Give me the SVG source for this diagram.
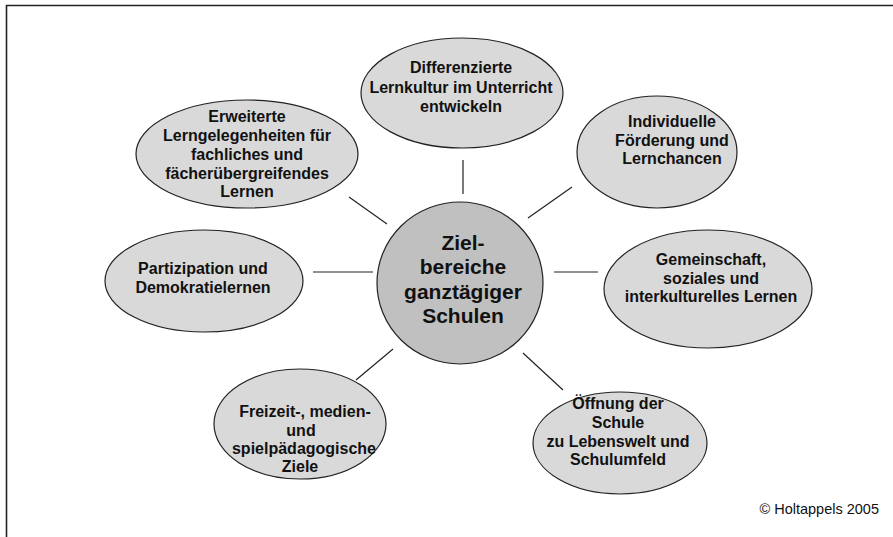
<svg xmlns="http://www.w3.org/2000/svg" width="893" height="537" viewBox="0 0 893 537">
<style>
.el{fill:#d9d9d9;stroke:#222;stroke-width:1.2}
.ctr{fill:#c0c0c0;stroke:#222;stroke-width:1.2}
.t{font-family:"Liberation Sans",Arial,sans-serif;font-weight:bold;font-size:16px;fill:#111;text-anchor:middle}
.tc{font-family:"Liberation Sans",Arial,sans-serif;font-weight:bold;font-size:21px;fill:#111;text-anchor:middle}
.cn line{stroke:#222;stroke-width:1.2}
</style>
<rect x="0" y="0" width="893" height="537" fill="#fff"/>
<path d="M6.5 537 V5.5 H893" fill="none" stroke="#222" stroke-width="1.6"/>
<g class="cn" id="connectors">
<line x1="463" y1="160" x2="463" y2="194"/>
<line x1="349" y1="197" x2="387" y2="224"/>
<line x1="528" y1="218" x2="572" y2="187"/>
<line x1="313" y1="272" x2="373" y2="272"/>
<line x1="554" y1="272" x2="598" y2="272"/>
<line x1="356" y1="380" x2="393" y2="349"/>
<line x1="523" y1="353" x2="563" y2="390"/>
</g>
<g id="center">
<ellipse class="ctr" cx="460" cy="283" rx="83" ry="81"/>
<text class="tc" x="463" y="250">Ziel-</text>
<text class="tc" x="463" y="274">bereiche</text>
<text class="tc" x="463" y="299">ganztägiger</text>
<text class="tc" x="463" y="323">Schulen</text>
</g>
<g id="n-lernkultur">
<ellipse class="el" cx="462" cy="93" rx="101" ry="55"/>
<text class="t" x="461" y="73">Differenzierte</text>
<text class="t" x="461" y="92.5">Lernkultur im Unterricht</text>
<text class="t" x="461" y="111.5">entwickeln</text>
</g>
<g id="n-lerngelegenheiten">
<ellipse class="el" cx="247" cy="154" rx="111" ry="54"/>
<text class="t" x="247" y="122">Erweiterte</text>
<text class="t" x="247" y="141">Lerngelegenheiten für</text>
<text class="t" x="247" y="160">fachliches und</text>
<text class="t" x="247" y="178.5">fächerübergreifendes</text>
<text class="t" x="247" y="197">Lernen</text>
</g>
<g id="n-foerderung">
<ellipse class="el" cx="657" cy="152" rx="80" ry="56"/>
<text class="t" x="672" y="127">Individuelle</text>
<text class="t" x="672" y="145.5">Förderung und</text>
<text class="t" x="672" y="164">Lernchancen</text>
</g>
<g id="n-gemeinschaft">
<ellipse class="el" cx="708" cy="289" rx="104" ry="59"/>
<text class="t" x="711" y="265">Gemeinschaft,</text>
<text class="t" x="711" y="283.5">soziales und</text>
<text class="t" x="711" y="302">interkulturelles Lernen</text>
</g>
<g id="n-partizipation">
<ellipse class="el" cx="204" cy="281" rx="99" ry="51"/>
<text class="t" x="203" y="273.5">Partizipation und</text>
<text class="t" x="203" y="293">Demokratielernen</text>
</g>
<g id="n-freizeit">
<ellipse class="el" cx="300" cy="424" rx="86" ry="55"/>
<text class="t" x="305" y="417">Freizeit-, medien-</text>
<text class="t" x="301" y="435.5">und</text>
<text class="t" x="304" y="454">spielpädagogische</text>
<text class="t" x="300" y="472">Ziele</text>
</g>
<g id="n-oeffnung">
<ellipse class="el" cx="620" cy="443" rx="87" ry="51"/>
<text class="t" x="618" y="408.5">Öffnung der</text>
<text class="t" x="618" y="428">Schule</text>
<text class="t" x="618" y="446.5">zu Lebenswelt und</text>
<text class="t" x="618" y="465">Schulumfeld</text>
</g>
<text x="879" y="514" font-family="Liberation Sans,Arial,sans-serif" font-size="14.5" fill="#111" text-anchor="end">© Holtappels 2005</text>
</svg>
